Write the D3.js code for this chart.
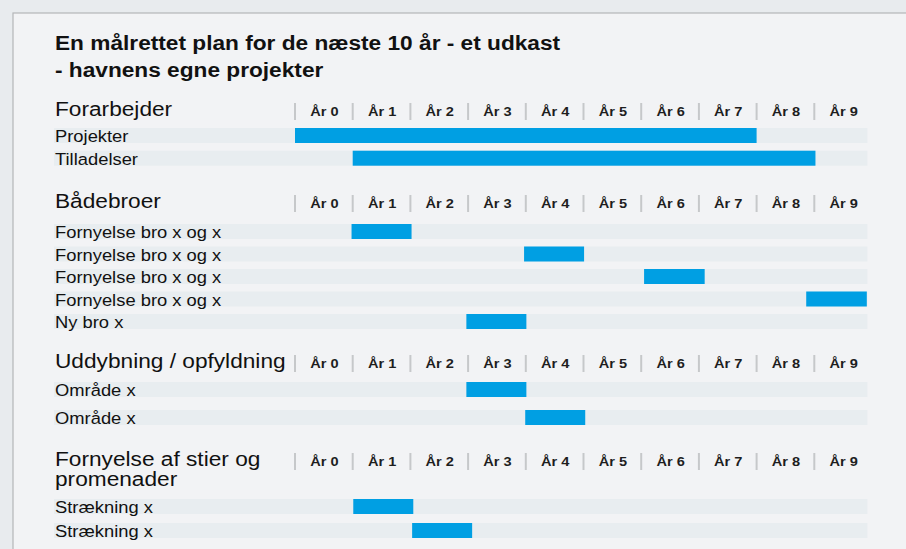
<!DOCTYPE html>
<html>
<head>
<meta charset="utf-8">
<script src="https://cdn.jsdelivr.net/npm/d3@7"></script>
<style>
  body { margin: 0; background: #e8ebee; }
  svg { display: block; font-family: "Liberation Sans", Arial, sans-serif; }
</style>
</head>
<body>
<svg id="chart" width="906" height="549"></svg>
<script>
// tick labels across the top of every section
var years = ["År 0", "År 1", "År 2", "År 3", "År 4", "År 5", "År 6", "År 7", "År 8", "År 9"];

var sectionNames = ["Forarbejder", "Bådebroer", "Uddybning / opfyldning", "Fornyelse af stier og|promenader"];

var taskNames = ["Projekter", "Tilladelser",
  "Fornyelse bro x og x", "Fornyelse bro x og x", "Fornyelse bro x og x", "Fornyelse bro x og x", "Ny bro x",
  "Område x", "Område x",
  "Strækning x", "Strækning x"];
var taskSection = [0, 0, 1, 1, 1, 1, 1, 2, 2, 3, 3];
// start / end in years
var taskStart = [0, 1, 0.98, 3.97, 6.05, 8.86, 2.97, 2.97, 3.99, 1.01, 2.03];
var taskEnd   = [8, 9.02, 2.02, 5.01, 7.10, 9.91, 4.01, 4.01, 5.03, 2.05, 3.07];
var rowEnd = 9.92;

var svg = d3.select("#chart");
var stretch = 1.08; // the slide text is a bit wider than plain Arial

// page / panel
svg.append("rect").attr("x", 13).attr("y", 13).attr("width", 900).attr("height", 540)
   .attr("fill", "#f2f3f5").attr("stroke", "#b4b6b8").attr("stroke-width", 1.2);

function wideText(g, tx, ty) {
  return g.append("text").attr("transform", "translate(" + tx + "," + ty + ") scale(" + stretch + ",1)");
}

wideText(svg, 55, 50)
   .style("font-size", "21px").style("font-weight", "bold").attr("fill", "#111")
   .text("En målrettet plan for de næste 10 år - et udkast");
wideText(svg, 55, 77)
   .style("font-size", "21px").style("font-weight", "bold").attr("fill", "#111")
   .text("- havnens egne projekter");

var x = d3.scaleLinear().domain([0, 10]).range([295, 872]);

// layout of the four blocks
var axisTop = [103, 195, 355, 453];
var rowTop = [128, 224, 382, 499];
var rowStep = [22.7, 22.5, 28, 24];
var barH = 15;
var labelX = 55;

var sec = svg.selectAll("g.section").data(sectionNames).enter().append("g").attr("class", "section");

sec.each(function(name, s) {
  var g = d3.select(this);
  var lines = name.split("|");
  wideText(g, labelX, axisTop[s] + 13)
    .style("font-size", "21px").attr("fill", "#111")
    .selectAll("tspan").data(lines).enter().append("tspan")
    .attr("x", 0).attr("dy", function(d, i) { return i == 0 ? 0 : 20; })
    .text(function(d) { return d; });

  var axis = d3.axisTop(x).tickValues(d3.range(years.length).map(function(i) { return i + 0.5; }))
    .tickSize(0).tickFormat(function(d) { return years[Math.floor(d)]; });
  var ag = g.append("g").attr("transform", "translate(0," + (axisTop[s] + 13) + ")").call(axis);
  ag.select(".domain").remove();
  ag.selectAll("text").attr("y", 0).attr("dy", 0)
    .attr("transform", "scale(" + stretch + ",1)")
    .style("font-size", "13.5px").style("font-weight", "bold").attr("fill", "#1e1e1e")
    .style("font-family", "'Liberation Sans', Arial, sans-serif");

  g.selectAll("line.sep").data(d3.range(years.length)).enter().append("line")
    .attr("class", "sep")
    .attr("x1", function(d) { return x(d); }).attr("x2", function(d) { return x(d); })
    .attr("y1", axisTop[s]).attr("y2", axisTop[s] + 17)
    .attr("stroke", "#c6c8ca").attr("stroke-width", 2);
});

// rows
var tasks = taskNames.map(function(n, i) {
  var s = taskSection[i];
  var k = taskSection.slice(0, i).filter(function(v) { return v == s; }).length;
  return { name: n, s: s, y: rowTop[s] + k * rowStep[s], start: taskStart[i], end: taskEnd[i] };
});

var rows = svg.selectAll("g.row").data(tasks).enter().append("g").attr("class", "row");

rows.append("rect").attr("x", labelX - 1).attr("y", function(d) { return d.y; })
  .attr("width", x(rowEnd) - labelX + 1).attr("height", barH).attr("fill", "#e8edf0");

rows.append("rect").attr("x", function(d) { return x(d.start); }).attr("y", function(d) { return d.y; })
  .attr("width", function(d) { return x(d.end) - x(d.start); }).attr("height", barH)
  .attr("fill", "#009fe3");

rows.each(function(d) {
  wideText(d3.select(this), labelX, d.y + 14)
    .style("font-size", "17px").attr("fill", "#111")
    .text(d.name);
});
</script>
</body>
</html>
